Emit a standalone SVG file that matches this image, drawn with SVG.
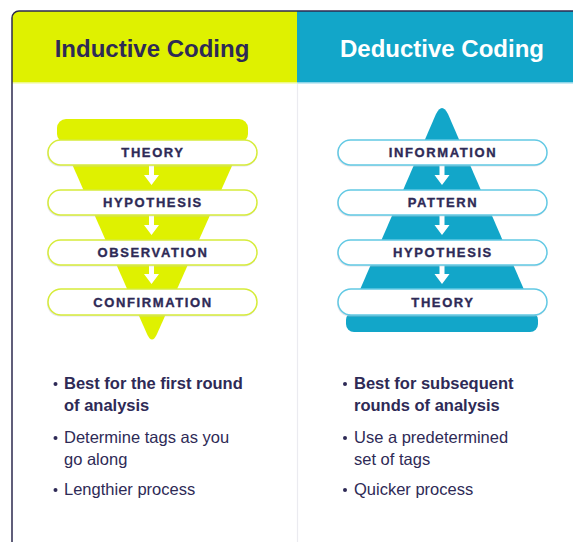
<svg xmlns="http://www.w3.org/2000/svg" width="573" height="542" viewBox="0 0 573 542">
<defs>
<style>
.title{font-family:"Liberation Sans",Arial,sans-serif;font-weight:700;font-size:24px;text-anchor:middle}
.pill{fill:#ffffff;stroke-width:1.5}
.pl{stroke:#d6ec3a}
.pr{stroke:#62c9e4}
.pt{font-family:"Liberation Sans",Arial,sans-serif;font-weight:700;font-size:13px;letter-spacing:1.6px;fill:#2e2a56;stroke:#2e2a56;stroke-width:0.35;text-anchor:middle}
.b{font-family:"Liberation Sans",Arial,sans-serif;font-size:16.5px;fill:#2e2a56}
.bb{font-weight:700}
.arrow{fill:#ffffff}
.dot{fill:#2e2a56}
.shadow{fill:#c9c9d3;opacity:0.5}
</style>
<clipPath id="card"><rect x="12" y="11" width="620" height="540" rx="7"/></clipPath>
</defs>
<rect width="573" height="542" fill="#ffffff"/>
<g id="card-bg" clip-path="url(#card)">
<rect x="12" y="11" width="620" height="540" fill="#ffffff"/>
<rect x="12" y="11" width="285" height="72" fill="#dff100"/>
<rect x="297" y="11" width="340" height="72" fill="#12a6c9"/>
<rect x="12" y="82" width="285" height="1.5" fill="#eef98a"/>
<rect x="297" y="82" width="340" height="1.5" fill="#8ed5e8"/>
<line x1="297.5" y1="84" x2="297.5" y2="542" stroke="#ebebf0" stroke-width="1.2"/>
</g>
<rect x="12" y="11" width="620" height="540" rx="7" fill="none" stroke="#2d2a4f" stroke-width="1.5"/>

<g id="header-inductive"><text class="title" x="152" y="57" fill="#2e2a56">Inductive Coding</text></g>
<g id="header-deductive"><text class="title" x="442" y="57" fill="#ffffff">Deductive Coding</text></g>

<g id="funnel">
<rect x="57" y="119" width="191" height="24" rx="9" fill="#dff100"/>
<path d="M57,130 L248,130 L157,334 Q152,345 147,334 Z" fill="#dff100"/>
</g>
<g id="pyramid">
<path d="M436,114 Q442,102 448,114 L538,322 L346,322 Z" fill="#12a6c9"/>
<rect x="346" y="312" width="192" height="20" rx="8" fill="#12a6c9"/>
</g>

<g id="connectors">
<path class="arrow" d="M149,165 h5 v10 h5 l-7.5,10 l-7.5,-10 h5 z"/>
<path class="arrow" d="M149,215 h5 v10 h5 l-7.5,10 l-7.5,-10 h5 z"/>
<path class="arrow" d="M149,265 h5 v9 h5 l-7.5,10 l-7.5,-10 h5 z"/>
<path class="arrow" d="M439.5,165 h5 v10 h5 l-7.5,10 l-7.5,-10 h5 z"/>
<path class="arrow" d="M439.5,215 h5 v10 h5 l-7.5,10 l-7.5,-10 h5 z"/>
<path class="arrow" d="M439.5,265 h5 v9 h5 l-7.5,10 l-7.5,-10 h5 z"/>
</g>

<g id="node-theory-l"><rect class="shadow" x="47" y="141.5" width="210" height="25" rx="12.5"/><rect class="pill pl" x="48" y="140" width="209" height="25" rx="12.5"/><text class="pt" x="153" y="157">THEORY</text></g>
<g id="node-hypothesis-l"><rect class="shadow" x="47" y="191.5" width="210" height="25" rx="12.5"/><rect class="pill pl" x="48" y="190" width="209" height="25" rx="12.5"/><text class="pt" x="153" y="207">HYPOTHESIS</text></g>
<g id="node-observation-l"><rect class="shadow" x="47" y="241.5" width="210" height="25" rx="12.5"/><rect class="pill pl" x="48" y="240" width="209" height="25" rx="12.5"/><text class="pt" x="153" y="257">OBSERVATION</text></g>
<g id="node-confirmation-l"><rect class="shadow" x="47" y="290.5" width="210" height="26" rx="13"/><rect class="pill pl" x="48" y="289" width="209" height="26" rx="13"/><text class="pt" x="153" y="306.5">CONFIRMATION</text></g>

<g id="node-information-r"><rect class="shadow" x="337" y="141.5" width="210" height="25" rx="12.5"/><rect class="pill pr" x="338" y="140" width="209" height="25" rx="12.5"/><text class="pt" x="443" y="157">INFORMATION</text></g>
<g id="node-pattern-r"><rect class="shadow" x="337" y="191.5" width="210" height="25" rx="12.5"/><rect class="pill pr" x="338" y="190" width="209" height="25" rx="12.5"/><text class="pt" x="443" y="207">PATTERN</text></g>
<g id="node-hypothesis-r"><rect class="shadow" x="337" y="241.5" width="210" height="25" rx="12.5"/><rect class="pill pr" x="338" y="240" width="209" height="25" rx="12.5"/><text class="pt" x="443" y="257">HYPOTHESIS</text></g>
<g id="node-theory-r"><rect class="shadow" x="337" y="290.5" width="210" height="26" rx="13"/><rect class="pill pr" x="338" y="289" width="209" height="26" rx="13"/><text class="pt" x="443" y="306.5">THEORY</text></g>

<g id="list-inductive">
<circle class="dot" cx="55.5" cy="384" r="2"/>
<text class="b bb" x="64" y="389">Best for the first round</text>
<text class="b bb" x="64" y="411">of analysis</text>
<circle class="dot" cx="55.5" cy="438" r="2"/>
<text class="b" x="64" y="443">Determine tags as you</text>
<text class="b" x="64" y="465">go along</text>
<circle class="dot" cx="55.5" cy="490" r="2"/>
<text class="b" x="64" y="495">Lengthier process</text>
</g>
<g id="list-deductive">
<circle class="dot" cx="345" cy="384" r="2"/>
<text class="b bb" x="354" y="389">Best for subsequent</text>
<text class="b bb" x="354" y="411">rounds of analysis</text>
<circle class="dot" cx="345" cy="438" r="2"/>
<text class="b" x="354" y="443">Use a predetermined</text>
<text class="b" x="354" y="465">set of tags</text>
<circle class="dot" cx="345" cy="490" r="2"/>
<text class="b" x="354" y="495">Quicker process</text>
</g>
</svg>
